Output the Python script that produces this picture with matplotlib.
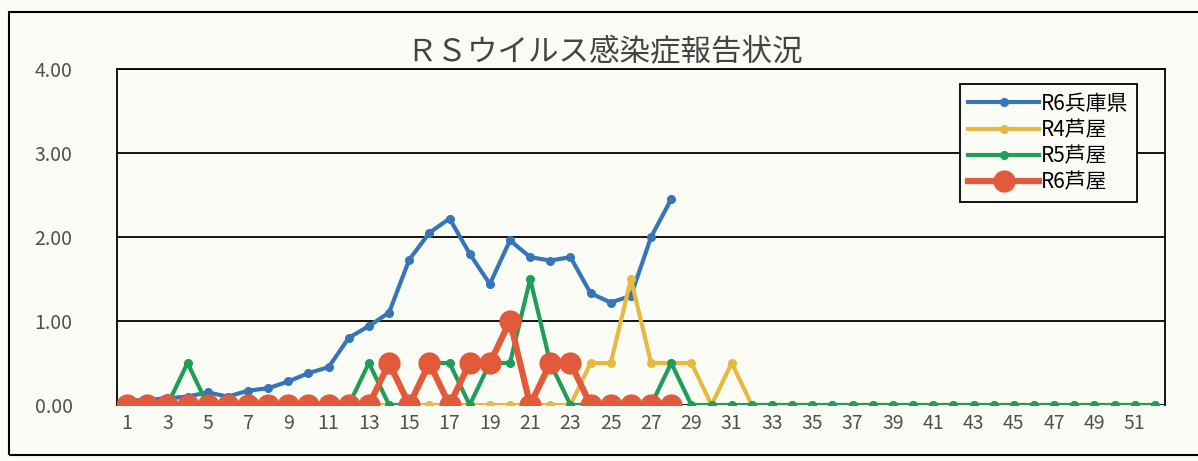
import matplotlib.pyplot as plt
from matplotlib.patches import Rectangle

plt.rcParams['font.family'] = ['Liberation Sans Narrow', 'Noto Sans CJK JP', 'DejaVu Sans']

weeks = list(range(1, 53))

# R6兵庫県 (週1〜28)
r6_hyogo = [0.05, 0.06, 0.08, 0.10, 0.15, 0.10, 0.17, 0.20, 0.28, 0.38,
            0.45, 0.80, 0.94, 1.10, 1.73, 2.05, 2.22, 1.80, 1.44, 1.96,
            1.76, 1.72, 1.76, 1.33, 1.22, 1.30, 2.00, 2.45]
# R4芦屋 (週1〜52)
r4_ashiya = [0, 0, 0, 0, 0, 0, 0, 0, 0, 0, 0, 0, 0, 0, 0, 0, 0, 0, 0, 0,
             0, 0, 0, 0.5, 0.5, 1.5, 0.5, 0.5, 0.5, 0, 0.5, 0] + [0] * 20
# R5芦屋 (週1〜52)
r5_ashiya = [0, 0, 0, 0.5, 0, 0, 0, 0, 0, 0, 0, 0, 0.5, 0, 0, 0.5, 0.5, 0, 0.5, 0.5,
             1.5, 0.5, 0, 0, 0, 0, 0, 0.5, 0] + [0] * 23
# R6芦屋 (週1〜28)
r6_ashiya = [0, 0, 0, 0, 0, 0, 0, 0, 0, 0, 0, 0, 0, 0.5, 0, 0.5, 0, 0.5, 0.5, 1.0,
             0, 0.5, 0.5, 0, 0, 0, 0, 0]

yticks = [0, 1, 2, 3, 4]
xtick_labels = [str(w) for w in range(1, 52, 2)]

bg = '#fcfcf7'
fig = plt.figure(figsize=(11.98, 4.61), dpi=100, facecolor=bg)
ax = fig.add_axes([117 / 1198, 1 - 405 / 461, 1048 / 1198, 336 / 461])
ax.set_facecolor(bg)

ax.plot(weeks[:len(r6_hyogo)], r6_hyogo, '-o', color='#3676b8', lw=3, ms=5.5, label='R6兵庫県', zorder=3)
ax.plot(weeks, r4_ashiya, '-o', color='#e8b941', lw=3, ms=5.5, label='R4芦屋', zorder=4)
ax.plot(weeks, r5_ashiya, '-o', color='#1f9e58', lw=3, ms=5.5, label='R5芦屋', zorder=5)
ax.plot(weeks[:len(r6_ashiya)], r6_ashiya, '-o', color='#e35a3a', lw=4.5, ms=15, label='R6芦屋', zorder=6)

ax.set_xlim(0.5, 52.5)
ax.set_ylim(0, 4)
ax.set_yticks(yticks)
ax.set_yticklabels([f'{v:.2f}' for v in yticks], fontsize=14, color='#505050')
ax.set_xticks(range(1, 52, 2))
ax.set_xticklabels(xtick_labels, fontsize=14, color='#505050')
ax.tick_params(length=0, pad=6)
ax.tick_params(axis='y', pad=32)
ax.grid(axis='y', color='black', lw=1.3)
for s in ax.spines.values():
    s.set_color('black')
    s.set_linewidth(1.3)
ax.spines['bottom'].set_visible(False)

leg = ax.legend(loc='upper right', bbox_to_anchor=(0.983, 0.985), fontsize=15, frameon=True,
                fancybox=False, edgecolor='black', handlelength=3.4, handletextpad=0.1,
                labelspacing=0.2, borderpad=0.4)
leg.get_frame().set_linewidth(1.3)
leg.get_frame().set_facecolor(bg)
leg.get_frame().set_alpha(1)

fig.text(605 / 1198, 1 - 53 / 461, 'ＲＳウイルス感染症報告状況', ha='center', va='center',
         fontsize=22, color='#444444', family=['Noto Sans CJK JP', 'DejaVu Sans'])

fig.patches.append(Rectangle((9 / 1198, 6 / 461), 1.1, 1 - 18 / 461, transform=fig.transFigure,
                             fill=False, edgecolor='black', lw=1.5))

fig.savefig('out.png', dpi=100, facecolor=bg)
